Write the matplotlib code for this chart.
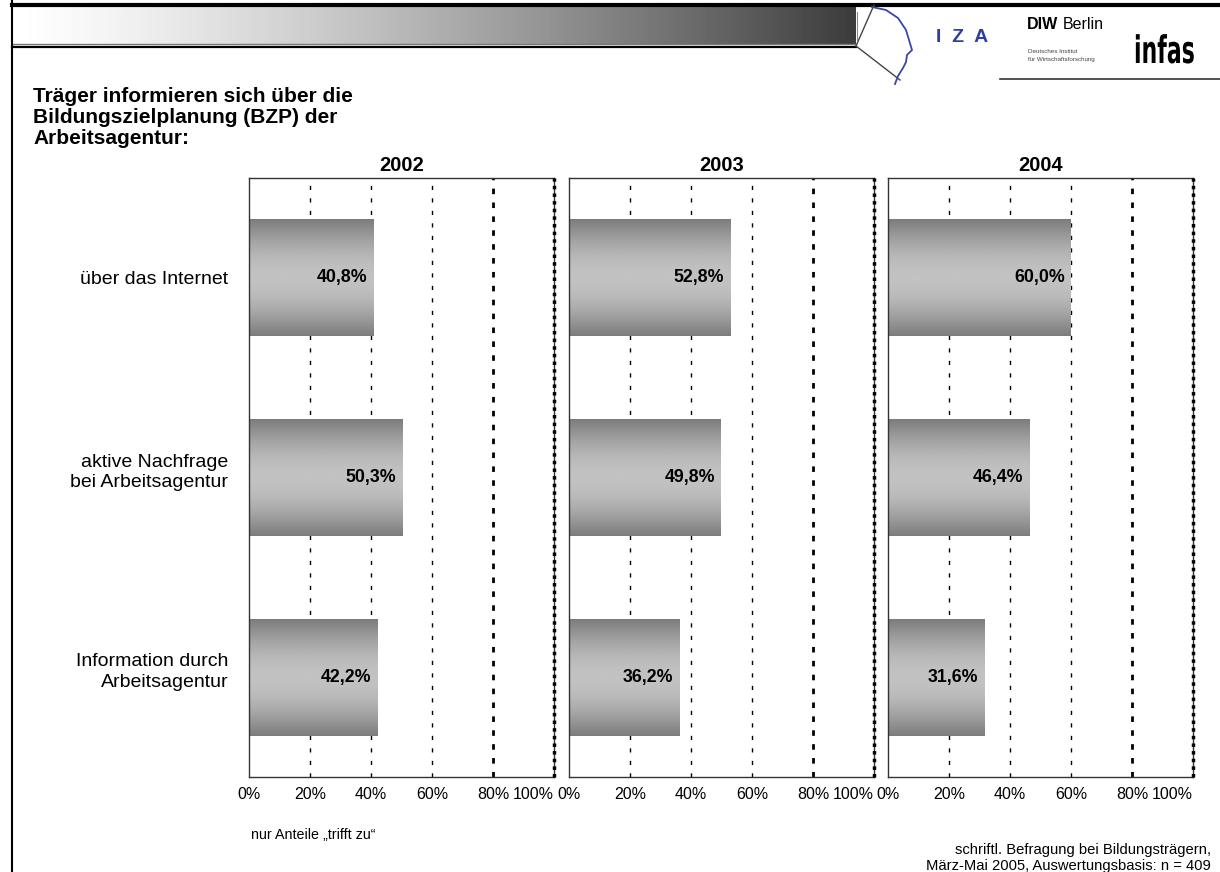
import numpy as np
import matplotlib
matplotlib.use("Agg")
import matplotlib.pyplot as plt
from matplotlib.colors import LinearSegmentedColormap
from matplotlib.textpath import TextPath
from matplotlib.patches import PathPatch
from matplotlib.font_manager import FontProperties
from matplotlib.transforms import Affine2D

plt.rcParams['font.family'] = ['Liberation Sans', 'DejaVu Sans']

# Daten
kategorien = ["über das Internet", "aktive Nachfrage\nbei Arbeitsagentur", "Information durch\nArbeitsagentur"]
jahre = ["2002", "2003", "2004"]
werte_2002 = [40.8, 50.3, 42.2]
werte_2003 = [52.8, 49.8, 36.2]
werte_2004 = [60.0, 46.4, 31.6]
werte = [werte_2002, werte_2003, werte_2004]
ticks = [0, 20, 40, 60, 80, 100]

fig = plt.figure(figsize=(12.2, 8.72), dpi=100)

# Hintergrund-Achse in Pixelkoordinaten (Kopfzeile, Logos, Texte)
bg = fig.add_axes([0, 0, 1, 1], zorder=0)
bg.set_xlim(0, 1220)
bg.set_ylim(872, 0)
bg.axis('off')

# Kopfzeile mit Verlauf
verlauf = np.linspace(0, 1, 400) ** 1.3
verlauf = np.vstack([verlauf, verlauf])
kopf_cmap = LinearSegmentedColormap.from_list("kopf", ["#ffffff", "#3c3c3c"])
bg.imshow(verlauf, extent=(15, 856, 45, 6), aspect='auto', cmap=kopf_cmap, zorder=1)
bg.plot([12, 1220], [5, 5], color="black", lw=3, zorder=2)
bg.plot([12, 856], [44, 44], color="#777777", lw=1, zorder=2)
bg.plot([12, 856], [47.5, 47.5], color="black", lw=1.6, zorder=2)
bg.plot([856, 874], [46, 5], color="#444444", lw=1, zorder=2)
bg.plot([856, 900], [46, 80], color="#444444", lw=1, zorder=2)
bg.plot([857, 857], [12, 40], color="#888888", lw=0.8, zorder=2)
bg.plot([1000, 1220], [79, 79], color="#333333", lw=1.2, zorder=2)
bg.plot([12, 12], [0, 872], color="black", lw=1.5, zorder=2)

# IZA Logo
kopf_x = [872, 886, 898, 906, 909, 912, 907, 906, 903, 898, 895]
kopf_y = [7, 10, 18, 30, 40, 50, 55, 62, 68, 76, 84]
bg.plot(kopf_x, kopf_y, color="#3b47a0", lw=1.3, zorder=2)
bg.text(962, 37, "I  Z  A", color="#2e3f9c", fontsize=14, fontweight='bold',
        ha='center', va='center', zorder=3)

# DIW Logo
bg.text(1027, 29, "DIW", fontsize=11.5, fontweight='bold', ha='left', va='baseline', zorder=3)
bg.text(1063, 29, "Berlin", fontsize=11.5, ha='left', va='baseline', zorder=3)
bg.text(1028, 53, "Deutsches Institut", fontsize=4.5, color="#444444", ha='left', va='baseline', zorder=3)
bg.text(1028, 61, "für Wirtschaftsforschung", fontsize=4.5, color="#444444", ha='left', va='baseline', zorder=3)

# infas Logo (schmal gezogen)
tp = TextPath((0, 0), "infas", size=38, prop=FontProperties(family="DejaVu Sans", weight="bold"))
trans = Affine2D().scale(0.58, -1.0).translate(1134, 63)
bg.add_patch(PathPatch(trans.transform_path(tp), facecolor="black", edgecolor="none", zorder=3))

# Titel
bg.text(33, 87, "Träger informieren sich über die\nBildungszielplanung (BZP) der\nArbeitsagentur:",
        fontsize=15, fontweight='bold', ha='left', va='top', linespacing=1.12, zorder=3)

# Fußnoten
bg.text(251, 835, "nur Anteile \u201etrifft zu\u201c", fontsize=10.3, ha='left', va='center', zorder=3)
bg.text(1211, 850, "schriftl. Befragung bei Bildungsträgern,", fontsize=10.6, ha='right', va='center', zorder=3)
bg.text(1211, 866, "März-Mai 2005, Auswertungsbasis: n = 409", fontsize=10.6, ha='right', va='center', zorder=3)

# Balken-Verlauf
balken_cmap = LinearSegmentedColormap.from_list("balken", ["#7c7c7c", "#c2c2c2"])
t = np.linspace(0, 1, 256)
balken_verlauf = np.sin(np.pi * t)[:, None]

links = [249, 569, 888]
breite = 305
unten = 95
hoehe = 599
y_pos = np.arange(len(kategorien))
# zweizeilige Beschriftungen sitzen im Original etwas höher
label_pos = [y - 0.045 if "\n" in k else y for y, k in zip(y_pos, kategorien)]

for p in range(3):
    ax = fig.add_axes([links[p] / 1220, unten / 872, breite / 1220, hoehe / 872], zorder=1)
    balken = ax.barh(y_pos, werte[p], height=0.585, color="none", edgecolor="none")
    for rect, v in zip(balken, werte[p]):
        x0, y0 = rect.get_x(), rect.get_y()
        img = ax.imshow(balken_verlauf, extent=(x0, x0 + rect.get_width(), y0 + rect.get_height(), y0),
                        aspect='auto', cmap=balken_cmap, zorder=2, interpolation='bilinear')
        img.set_clip_path(rect)
        ax.annotate(f"{v:.1f}".replace(".", ",") + "%", xy=(v, rect.get_y() + rect.get_height() / 2),
                    xytext=(-6, 0), textcoords='offset pixels', ha='right', va='center',
                    fontsize=12.8, fontweight='bold', zorder=3)
    ax.set_xlim(0, 100)
    ax.set_ylim(2.5, -0.5)
    ax.set_xticks(ticks)
    ax.set_xticklabels([f"{t}%" for t in ticks], fontsize=11.5)
    ax.get_xticklabels()[-1].set_horizontalalignment('right')
    ax.tick_params(axis='x', length=0, pad=7)
    if p == 0:
        ax.set_yticks(label_pos)
        ax.set_yticklabels(kategorien, fontsize=14, linespacing=1.3)
    else:
        ax.set_yticks([])
    ax.tick_params(axis='y', length=0, pad=15)
    for x in [20, 40, 60]:
        ax.axvline(x, color="black", lw=1, linestyle=(0, (3, 6)), zorder=1)
    ax.axvline(80, color="black", lw=2, linestyle=(0, (2, 3)), zorder=1)
    ax.axvline(100, color="black", lw=2.5, linestyle=(0, (1, 1.2)), zorder=4, clip_on=False)
    for s in ax.spines.values():
        s.set_color("#333333")
        s.set_linewidth(1)
    ax.set_title(jahre[p], fontsize=14.5, fontweight='bold', pad=5)

fig.savefig("out.png", dpi=100)
